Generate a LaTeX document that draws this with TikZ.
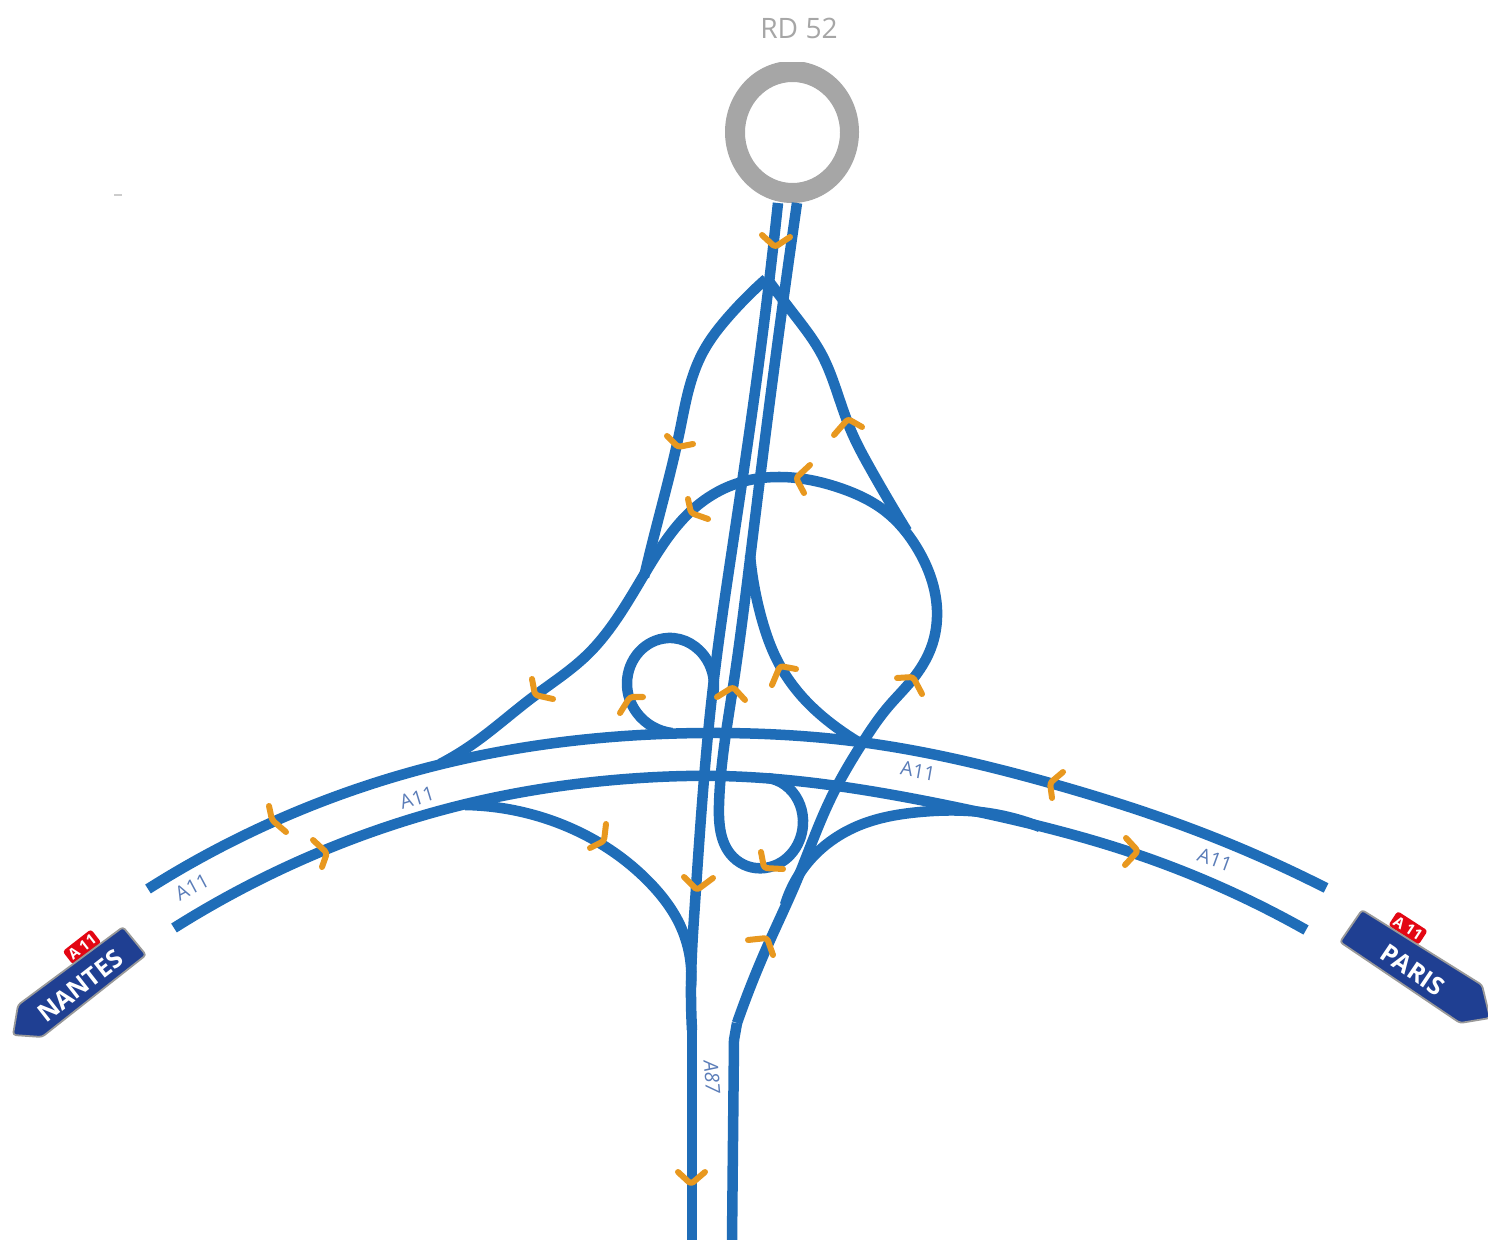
\documentclass[tikz,border=0pt]{standalone}
\usepackage{fontspec}
\setmainfont{Open Sans}
\usetikzlibrary{hobby}
\definecolor{road}{HTML}{1F6DB8}
\definecolor{chevc}{HTML}{E8981F}
\definecolor{ringc}{HTML}{A6A6A6}
\definecolor{signb}{HTML}{1F3F92}
\definecolor{signr}{HTML}{E30613}
\definecolor{lab}{HTML}{5B7DB8}
\tikzset{
  roadline/.style={draw=road,line width=0.105cm,line join=round,use Hobby shortcut},
  roadstraight/.style={draw=road,line width=0.105cm,line join=round},
  chev/.style={draw=chevc,line width=0.06cm,line cap=round,line join=round,rounded corners=0.03cm},
  signbody/.style={fill=signb,draw=gray!80,line width=0.018cm,rounded corners=0.03cm,line join=round},
  signtext/.style={text=white,font=\fontsize{7.1}{8}\selectfont\bfseries,inner sep=0pt},
  redbox/.style={fill=signr,rounded corners=0.03cm,text=white,font=\fontsize{4.2}{5}\selectfont\bfseries,inner sep=0pt,minimum width=0.36cm,minimum height=0.17cm},
  roadlabel/.style={text=lab,font=\fontsize{5.6}{6}\selectfont,inner sep=0pt},
}
\newcommand{\chv}[3]{\draw[chev] (#1) -- (#2) -- (#3);}
\begin{document}
\begin{tikzpicture}[x=0.01cm,y=-0.01cm]
\useasboundingbox (0,0) rectangle (1488,1240);
% roundabout
\begin{scope}
\clip (700,63) rectangle (880,220);
\fill[ringc,even odd rule] (792,132) ellipse [x radius=67,y radius=71] (792.5,132.5) ellipse [x radius=47.5,y radius=50.5];
\end{scope}
\node[text=ringc,font=\fontsize{8}{9}\selectfont,inner sep=0pt] (rd) at (799,28) {RD 52};
\fill[gray!40] (114,194) rectangle (122,196);
% A11 carriageways
\draw[roadline] (148,889) .. (275,821) .. (430,767) .. (600,738) .. (720,733) .. (860,742) .. (1050,783) .. (1200,832) .. (1326,888);
\draw[roadline] (174,928) .. (320,852) .. (470,803) .. (640,778) .. (720,776) .. (830,785) .. (960,808) .. (1130,852) .. (1306,930);
% long ramp
\draw[roadline] (440,764) .. (470,746) .. (533,697) .. (587,655) .. (627,603) .. (653,560) .. (690,512) .. (730,486) .. (780,477) .. (840,488) .. (885,511) .. (917,548) .. (937,610) .. (931,648) .. (912,680) .. (888,707) .. (863,742) .. (830,800) .. (797,880) .. (767,947) .. (737,1023);
\draw[roadstraight] (737,1023) -- (734,1040) -- (732,1240);
% branches to top
\draw[roadline] (766,279) .. (730,315) .. (703,352) .. (690,385) .. (680,430) .. (653,540) .. (644,577);
\draw[roadline] (768,280) .. (793,313) .. (822,355) .. (838,395) .. (852,433) .. (870,468) .. (907,531);
% main lines
\draw[roadline] (778,203) .. (757,377) .. (733,543) .. (713,687) .. (695,903) .. (691,985) .. (692,1030);
\draw[roadstraight] (692,1030) -- (692,1240);
\draw[roadline] (797,203) .. (773,377) .. (752,543) .. (733,687) .. (719,805) .. (733,857) .. (765,868) .. (803,820) .. (785,785) .. (768,778);
% upper-left loop
\draw[roadline] (713,695) .. (707,660) .. (668,638) .. (627,683) .. (637,713) .. (672,733);
% large loop
\draw[roadline] (750,555) .. (762,620) .. (777,660) .. (807,702) .. (840,730) .. (865,746);
% lower-left ramp
\draw[roadline] (465,805) .. (550,820) .. (650,883) .. (680,925) .. (691,985);
% lower-right ramp
\draw[roadline] (785,905) .. (810,860) .. (860,825) .. (920,812) .. (980,812) .. (1040,827);
% chevrons
\chv{762,235}{775,247}{790,237}
\chv{667,436}{678,447}{693,444}
\chv{688,499}{691,513}{708,519}
\chv{810,465}{796,478}{804,493}
\chv{834,435}{848,419}{862,427}
\chv{532,679}{535,695}{553,699}
\chv{620,713}{630,697}{643,697}
\chv{717,697}{733,687}{745,700}
\chv{772,685}{780,666}{796,669}
\chv{897,678}{913,677}{922,694}
\chv{684,877}{697,890}{713,878}
\chv{761,852}{764,868}{783,869}
\chv{748,940}{767,938}{773,955}
\chv{606,824}{604,841}{590,848}
\chv{313,840}{327,853}{322,867}
\chv{269,806}{272,820}{286,832}
\chv{1063,772}{1050,783}{1052,798}
\chv{1126,838}{1138,851}{1125,865}
\chv{678,1172}{691,1184}{705,1172}
% labels
\node[roadlabel,rotate=28] (l1) at (192,887) {A11};
\node[roadlabel,rotate=17] (l2) at (417,798) {A11};
\node[roadlabel,rotate=-10] (l3) at (918,771) {A11};
\node[roadlabel,rotate=-20] (l4) at (1215,860) {A11};
\node[roadlabel,rotate=-85,font=\fontsize{5.6}{6}\selectfont\itshape] (l5) at (712,1077) {A87};
% Nantes sign
\node[redbox,rotate=38] (r1) at (82,947) {A 11};
\draw[signbody] (123,927) -- (146,955) -- (42,1037) -- (13,1035) -- (18,1005) -- cycle;
\node[signtext,rotate=38] (n1) at (80,986) {NANTES};
% Paris sign
\node[redbox,rotate=-33] (r2) at (1408,928) {A 11};
\draw[signbody] (1362,910) -- (1340,942) -- (1460,1023) -- (1490,1018) -- (1482,985) -- cycle;
\node[signtext,rotate=-34] (p1) at (1413,970) {PARIS};
\end{tikzpicture}
\end{document}
